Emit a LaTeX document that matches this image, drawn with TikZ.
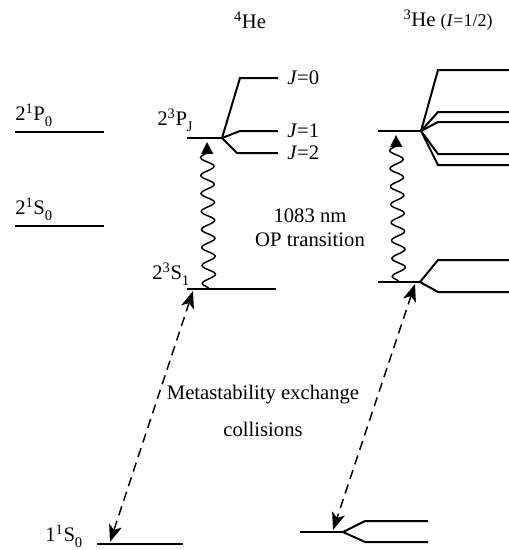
\documentclass[tikz,border=0pt]{standalone}
\usepackage{fontspec}
\setmainfont{Liberation Serif}
\usetikzlibrary{arrows.meta, decorations.pathmorphing}
\newcommand{\levsub}[1]{\raisebox{-4.5pt}{\fontsize{11}{11}\selectfont #1}}

\begin{document}
\begin{tikzpicture}[x=0.75pt, y=-0.75pt,
    level/.style={line width=1.5pt},
    lbl/.style={font=\fontsize{15.5}{18}\selectfont, inner sep=0pt},
    pump/.style={line width=1.1pt, -{Triangle[length=9pt, width=9pt]}, decorate,
        decoration={snake, amplitude=5pt, segment length=13.5pt, post length=5pt}},
    mex/.style={line width=1.1pt, dash pattern=on 7pt off 4.5pt,
        {Stealth[length=13pt, width=10pt, inset=3.5pt]}-{Stealth[length=13pt, width=10pt, inset=3.5pt]}}
]
\useasboundingbox (0,0) rectangle (509,550);

% Titles
\node[lbl] (he4) at (250,20) {\textsuperscript{4}He};
\node[lbl] (he3) at (448,20) {\textsuperscript{3}He {\fontsize{13.5}{15}\selectfont(\textit{I}=1/2)}};

% Singlet levels - left
\draw[level] (15,132) -- (104,132);
\node[lbl, anchor=base west] (p21) at (15,120) {2\textsuperscript{1}P\levsub{0}};
\draw[level] (15,226) -- (104,226);
\node[lbl, anchor=base west] (s21) at (15,214) {2\textsuperscript{1}S\levsub{0}};

% 4He levels
\coordinate (pj4) at (222,138);
\draw[level] (187,138) -- (pj4);
\node[lbl, anchor=base west] (p23) at (157,125) {2\textsuperscript{3}P\levsub{J}};
\draw[level] (pj4) -- (240,78) -- (278,78);
\draw[level] (pj4) -- (240,131) -- (278,131);
\draw[level] (pj4) -- (237,153) -- (278,153);
\node[lbl, anchor=west] (j0) at (287,78) {\textit{J}=0};
\node[lbl, anchor=west] (j1) at (287,131) {\textit{J}=1};
\node[lbl, anchor=west] (j2) at (287,153) {\textit{J}=2};

\draw[level] (187,289) -- (276,289);
\node[lbl, anchor=base west] (s23) at (152,279) {2\textsuperscript{3}S\levsub{1}};

\draw[level] (97,544) -- (183,544);
\node[lbl, anchor=base west] (s11) at (45,541) {1\textsuperscript{1}S\levsub{0}};

% 3He levels
\coordinate (pj3) at (421,131);
\draw[level] (378,131) -- (pj3);
\foreach \y in {70,112,122,154,165}
    \draw[level] (pj3) -- (438,\y) -- (509,\y);

\coordinate (s3) at (420,282);
\draw[level] (378,282) -- (s3);
\draw[level] (s3) -- (438,260) -- (509,260);
\draw[level] (s3) -- (438,292) -- (509,292);

\coordinate (g3) at (343,532);
\draw[level] (300,532) -- (g3);
\draw[level] (g3) -- (365,521) -- (428,521);
\draw[level] (g3) -- (365,542) -- (428,542);

% Optical pumping
\coordinate (op4a) at (209,289);
\coordinate (op4b) at (207,142);
\coordinate (op3a) at (399,282);
\coordinate (op3b) at (396,135);
\draw[pump] (op4a) -- (op4b);
\draw[pump] (op3a) -- (op3b);
\node[lbl, align=center] (oplbl) at (310,228) {1083 nm\\OP transition};

% Metastability exchange
\coordinate (m4a) at (193,291);
\coordinate (m4b) at (110,542);
\coordinate (m3a) at (415,284);
\coordinate (m3b) at (333,530);
\draw[mex] (m4a) -- (m4b);
\draw[mex] (m3a) -- (m3b);
\node[lbl, align=center] (melbl) at (263,411) {Metastability exchange\\[10pt]collisions};

\end{tikzpicture}
\end{document}
